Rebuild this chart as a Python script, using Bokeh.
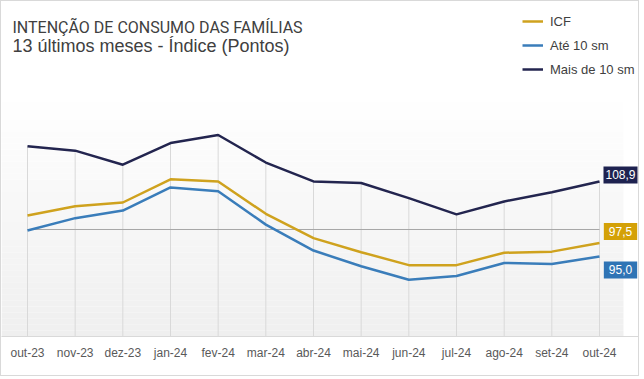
from bokeh.plotting import figure
from bokeh.models import Label, Legend, LegendItem, FixedTicker, BoxAnnotation, Range1d
from bokeh.embed import file_html
from bokeh.resources import INLINE

# ---- data ----
months = ["out-23", "nov-23", "dez-23", "jan-24", "fev-24", "mar-24", "abr-24",
          "mai-24", "jun-24", "jul-24", "ago-24", "set-24", "out-24"]
icf = [102.6, 104.3, 105.0, 109.3, 108.9, 102.9, 98.4, 95.8, 93.4, 93.4, 95.7, 95.9, 97.5]
ate10 = [99.8, 102.1, 103.5, 107.8, 107.1, 100.9, 96.1, 93.2, 90.7, 91.4, 93.8, 93.6, 95.0]
mais10 = [115.4, 114.6, 112.0, 116.0, 117.5, 112.4, 108.9, 108.6, 105.8, 102.8, 105.2, 106.9, 108.9]
ref_value = 100
series_names = ["ICF", "Até 10 sm", "Mais de 10 sm"]
title_text = "INTENÇÃO DE CONSUMO DAS FAMÍLIAS"
subtitle_text = "13 últimos meses - Índice (Pontos)"

GOLD = "#CFA21E"
BLUE = "#3A7DBA"
NAVY = "#23254F"
GOLD_BOX = "#D4A107"
BLUE_BOX = "#2F74B5"
NAVY_BOX = "#1E2250"

x = list(range(len(months)))
ymin, ymax = 80.185, 142.222
grad_top = 124.81
grad_right = 12.503

p = figure(width=639, height=376, x_range=Range1d(-0.5455, 12.860),
           y_range=Range1d(ymin, ymax), output_backend="svg", toolbar_location=None,
           y_axis_location=None, min_border_left=0, min_border_right=0,
           min_border_top=0, min_border_bottom=41)
p.outline_line_color = None
p.xgrid.visible = False
p.ygrid.visible = False
p.background_fill_color = "white"
p.border_fill_color = "white"
p.styles = {"border": "1px solid #d9d9d9"}

# gradient background
n_bands = 40
for i in range(n_bands):
    b = ymin + (grad_top - ymin) * i / n_bands
    t = ymin + (grad_top - ymin) * (i + 1) / n_bands
    f = (i + 0.5) / n_bands
    c = int(round(239 + (255 - 239) * f))
    p.add_layout(BoxAnnotation(bottom=b, top=t, right=grad_right,
                               fill_color=f"#{c:02x}{c:02x}{c:02x}",
                               fill_alpha=1, line_alpha=0, level="underlay"))

# drop lines from top series
p.segment(x0=x, y0=[ymin] * len(x), x1=x, y1=mais10, line_color="#d9d9d9", line_width=1)
# reference line at 100
p.line([x[0], x[-1]], [ref_value, ref_value], line_color="#a6a6a6", line_width=1)

r_mais = p.line(x, mais10, line_color=NAVY, line_width=2.5)
r_ate = p.line(x, ate10, line_color=BLUE, line_width=2.5)
r_icf = p.line(x, icf, line_color=GOLD, line_width=2.5)

# axis
ax = p.xaxis[0]
ax.ticker = FixedTicker(ticks=x)
ax.major_label_overrides = {i: m for i, m in enumerate(months)}
ax.axis_line_color = "#d9d9d9"
ax.major_tick_line_color = None
ax.minor_tick_line_color = None
ax.major_tick_out = 0
ax.major_tick_in = 0
ax.minor_tick_out = 0
ax.major_label_text_font = "Liberation Sans"
ax.major_label_text_font_size = "12px"
ax.major_label_text_color = "#595959"
ax.major_label_standoff = 9

# legend
legend = Legend(items=[LegendItem(label=series_names[0], renderers=[r_icf]),
                       LegendItem(label=series_names[1], renderers=[r_ate]),
                       LegendItem(label=series_names[2], renderers=[r_mais])],
                location=(521, 257), padding=0, margin=0, spacing=4,
                glyph_width=21, glyph_height=20, label_height=20, label_standoff=7,
                label_text_font="Liberation Sans", label_text_font_size="13px",
                label_text_color="#404040", border_line_alpha=0, background_fill_alpha=0)
p.add_layout(legend)

# titles
p.add_layout(Label(x=11, y=308.7, x_units="screen", y_units="screen", text=title_text,
                   text_font="Roboto", text_font_size="16px",
                   text_color="#404040", text_baseline="alphabetic"))
p.add_layout(Label(x=11, y=291, x_units="screen", y_units="screen", text=subtitle_text,
                   text_font="Liberation Sans", text_font_size="18px",
                   text_color="#404040", text_baseline="alphabetic"))

# end value labels
for vals, col, yoff, padx in [(mais10, NAVY_BOX, 6.5, 2), (icf, GOLD_BOX, 11.5, 5),
                              (ate10, BLUE_BOX, -13.5, 5)]:
    txt = f"{vals[-1]:.1f}".replace(".", ",")
    p.add_layout(Label(x=x[-1], y=vals[-1], text=txt, x_offset=21, y_offset=yoff,
                       text_align="center", text_baseline="middle",
                       text_font="Liberation Sans", text_font_size="12px",
                       text_color="white", background_fill_color=col,
                       background_fill_alpha=1, padding=(padx, 4)))

open("out.html", "w").write(file_html(p, INLINE))
